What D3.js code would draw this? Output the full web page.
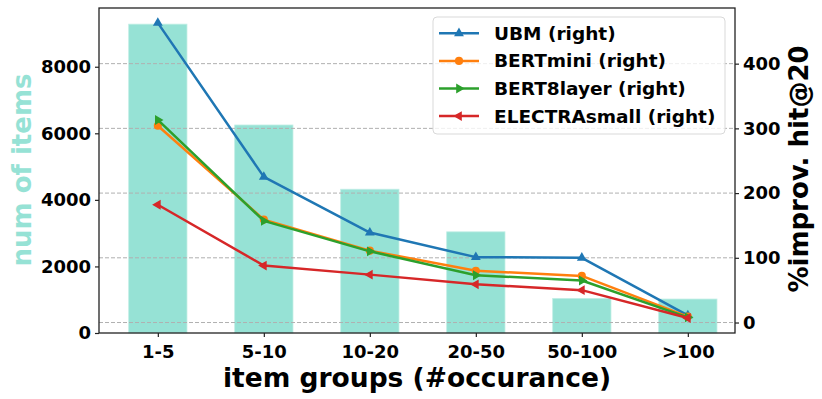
<!DOCTYPE html>
<html>
<head>
<meta charset="utf-8">
<script src="https://cdn.jsdelivr.net/npm/d3@7"></script>
<style>
  body { margin: 0; background: #fff; }
  text { font-family: "DejaVu Sans", sans-serif; font-weight: bold; }
</style>
</head>
<body>
<script>
const w = 822;
const h = 399;

// data
const groups = ["1-5", "5-10", "10-20", "20-50", "50-100", ">100"];
const numItems = [9280, 6250, 4320, 3040, 1040, 1020];
const ubm = [463, 225, 139, 101, 100, 11];
const bertMini = [304, 159, 111, 80, 72, 9];
const bert8layer = [313, 157, 110, 73, 65, 8];
const electraSmall = [182, 88, 74, 59, 50, 7];
const leftTicks = [0, 2000, 4000, 6000, 8000];
const rightTicks = [0, 100, 200, 300, 400];

const series = [
  {name: "UBM (right)", values: ubm, color: "#1f77b4", marker: "up"},
  {name: "BERTmini (right)", values: bertMini, color: "#ff7f0e", marker: "circle"},
  {name: "BERT8layer (right)", values: bert8layer, color: "#2ca02c", marker: "right"},
  {name: "ELECTRAsmall (right)", values: electraSmall, color: "#d62728", marker: "left"}
];

const plot = {left: 99, right: 735, top: 8, bottom: 333};
const barColor = "#96e2d5";

var svg = d3.select("body")
            .append("svg")
            .attr("width", w)
            .attr("height", h);

const xScale = d3.scaleLinear()
                 .domain([-0.555, 5.445])
                 .range([plot.left, plot.right]);

const yLeft = d3.scaleLinear()
                .domain([0, 9765])
                .range([plot.bottom, plot.top]);

const yRight = d3.scaleLinear()
                 .domain([-16.2, 486])
                 .range([plot.bottom, plot.top]);

const barW = xScale(0.55) - xScale(0);

// bars
svg.selectAll("rect.bar")
   .data(numItems)
   .enter()
   .append("rect")
   .attr("class", "bar")
   .attr("x", (d, i) => xScale(i) - barW / 2)
   .attr("width", barW)
   .attr("y", d => yLeft(d))
   .attr("height", d => yLeft(0) - yLeft(d))
   .attr("fill", barColor)
   .attr("stroke", "#c2eee5")
   .attr("stroke-width", 0.8);

// grid (right axis)
svg.selectAll("line.grid")
   .data(rightTicks)
   .enter()
   .append("line")
   .attr("class", "grid")
   .attr("x1", plot.left)
   .attr("x2", plot.right)
   .attr("y1", d => yRight(d))
   .attr("y2", d => yRight(d))
   .attr("stroke", "#b0b0b0")
   .attr("stroke-width", 1)
   .attr("stroke-dasharray", "4,2");

function markerPath(type) {
  if (type == "circle") return d3.symbol().type(d3.symbolCircle).size(52)();
  return d3.symbol().type(d3.symbolTriangle).size(42)();
}
function markerRot(type) {
  if (type == "right") return 90;
  if (type == "left") return -90;
  return 0;
}

const line = d3.line()
               .x((d, i) => xScale(i))
               .y(d => yRight(d));

series.forEach(s => {
  svg.append("path")
     .attr("d", line(s.values))
     .attr("fill", "none")
     .attr("stroke", s.color)
     .attr("stroke-width", 2.5)
     .attr("stroke-linejoin", "round");

  svg.selectAll(null)
     .data(s.values)
     .enter()
     .append("path")
     .attr("d", markerPath(s.marker))
     .attr("transform", (d, i) => "translate(" + xScale(i) + "," + yRight(d) + ") rotate(" + markerRot(s.marker) + ")")
     .attr("fill", s.color);
});

// axes
const xAxis = d3.axisBottom(xScale)
                .tickValues(d3.range(groups.length))
                .tickFormat(i => groups[i])
                .tickSize(4)
                .tickPadding(8);

const yAxisL = d3.axisLeft(yLeft)
                 .tickValues(leftTicks)
                 .tickFormat(d3.format("d"))
                 .tickSize(4)
                 .tickPadding(4);

const yAxisR = d3.axisRight(yRight)
                 .tickValues(rightTicks)
                 .tickFormat(d3.format("d"))
                 .tickSize(4)
                 .tickPadding(4);

svg.append("g")
   .attr("id", "x-axis")
   .attr("transform", "translate(0," + plot.bottom + ")")
   .call(xAxis)
   .call(g => g.selectAll("text").attr("font-size", 18).attr("fill", "#000"));

svg.append("g")
   .attr("id", "y-axis-left")
   .attr("transform", "translate(" + plot.left + ",0)")
   .call(yAxisL)
   .call(g => g.selectAll("text").attr("font-size", 18).attr("fill", "#000"));

svg.append("g")
   .attr("id", "y-axis-right")
   .attr("transform", "translate(" + plot.right + ",0)")
   .call(yAxisR)
   .call(g => g.selectAll("text").attr("font-size", 18).attr("fill", "#000"));

svg.selectAll(".domain").remove();
svg.selectAll(".tick line").attr("stroke", "#222").attr("stroke-width", 1.2);

// frame
svg.append("rect")
   .attr("x", plot.left)
   .attr("y", plot.top)
   .attr("width", plot.right - plot.left)
   .attr("height", plot.bottom - plot.top)
   .attr("fill", "none")
   .attr("stroke", "#222")
   .attr("stroke-width", 1.3);

// labels
svg.append("text")
   .text("item groups (#occurance)")
   .attr("x", 417)
   .attr("y", 387)
   .attr("text-anchor", "middle")
   .attr("font-size", 26.5);

svg.append("text")
   .text("num of items")
   .attr("transform", "translate(31,170) rotate(-90)")
   .attr("text-anchor", "middle")
   .attr("font-size", 26)
   .attr("fill", barColor);

svg.append("text")
   .text("%improv. hit@20")
   .attr("transform", "translate(808,169) rotate(-90)")
   .attr("text-anchor", "middle")
   .attr("font-size", 26);

// legend
const legend = svg.append("g");

legend.append("rect")
      .attr("x", 433)
      .attr("y", 17)
      .attr("width", 292)
      .attr("height", 117)
      .attr("rx", 4)
      .attr("fill", "#fff")
      .attr("fill-opacity", 0.8)
      .attr("stroke", "#d9d9d9");

series.forEach((s, i) => {
  const ly = 33.3 + i * 27.6;
  legend.append("line")
        .attr("x1", 439)
        .attr("x2", 479)
        .attr("y1", ly)
        .attr("y2", ly)
        .attr("stroke", s.color)
        .attr("stroke-width", 2.5);
  legend.append("path")
        .attr("d", markerPath(s.marker))
        .attr("transform", "translate(459," + ly + ") rotate(" + markerRot(s.marker) + ")")
        .attr("fill", s.color);
  legend.append("text")
        .text(s.name)
        .attr("x", 494)
        .attr("y", ly)
        .attr("dy", "0.35em")
        .attr("font-size", 18.5);
});
</script>
</body>
</html>
